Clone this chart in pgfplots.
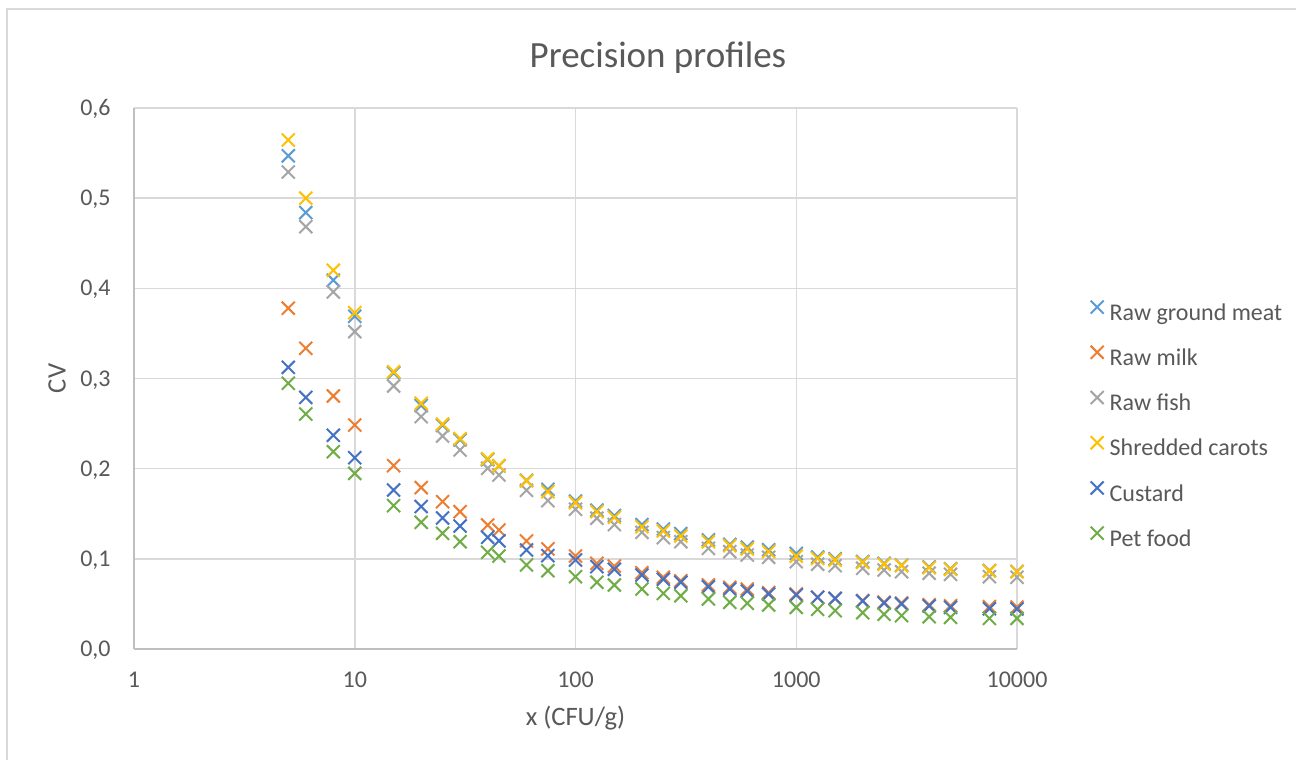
\documentclass[border=0pt]{standalone}
\usepackage{pgfplots}
\usepackage{pgfplotstable}
\pgfplotsset{compat=1.18}
\usepackage{fontspec}
\setmainfont{Carlito}

\definecolor{txtgray}{HTML}{595959}
\definecolor{gridgray}{HTML}{D9D9D9}
\definecolor{axisgray}{HTML}{BFBFBF}
\definecolor{cmeat}{HTML}{5B9BD5}
\definecolor{cmilk}{HTML}{ED7D31}
\definecolor{cfish}{HTML}{A5A5A5}
\definecolor{ccarrot}{HTML}{FFC000}
\definecolor{ccustard}{HTML}{4472C4}
\definecolor{cpet}{HTML}{70AD47}

% CV per matrix at each contamination level (CFU/g)
\pgfplotstableread{
x      meat    milk    fish    carrot  custard pet
5      0.547   0.378   0.529   0.5645  0.3124  0.2947
6      0.484   0.3335  0.4684  0.500   0.279   0.2606
8      0.409   0.2806  0.396   0.420   0.237   0.2188
10     0.369   0.2484  0.352   0.373   0.2122  0.1948
15     0.306   0.2033  0.2917  0.3075  0.1763  0.159
20     0.270   0.179   0.2577  0.2725  0.158   0.1405
25     0.248   0.1634  0.2362  0.2495  0.1453  0.1283
30     0.232   0.1523  0.2207  0.2333  0.1364  0.119
40     0.210   0.1375  0.2004  0.211   0.1239  0.1072
45     0.203   0.132   0.193   0.2033  0.120   0.1031
60     0.187   0.1198  0.176   0.1865  0.1098  0.0932
75     0.177   0.111   0.1645  0.1745  0.1035  0.0868
100    0.164   0.1031  0.155   0.1623  0.0987  0.0802
125    0.154   0.095   0.145   0.1523  0.0913  0.074
150    0.148   0.092   0.138   0.146   0.0884  0.071
200    0.138   0.0846  0.1294  0.1356  0.082   0.0665
250    0.133   0.0795  0.1235  0.1309  0.0773  0.0617
300    0.128   0.0757  0.119   0.1253  0.074   0.059
400    0.121   0.071   0.1116  0.119   0.069   0.0555
500    0.116   0.0684  0.1079  0.1146  0.0665  0.0518
600    0.113   0.0665  0.1042  0.111   0.0643  0.0507
750    0.110   0.0625  0.1017  0.108   0.061   0.0488
1000   0.106   0.061   0.0968  0.1030  0.0599  0.0462
1250   0.102   0.0575  0.094   0.1005  0.0573  0.044
1500   0.100   0.0562  0.0924  0.0987  0.056   0.0425
2000   0.097   0.0537  0.0895  0.0961  0.0532  0.0403
2500   0.095   0.052   0.0876  0.094   0.051   0.0385
3000   0.093   0.051   0.0857  0.0924  0.050   0.037
4000   0.091   0.049   0.084   0.0902  0.0477  0.0358
5000   0.089   0.048   0.0828  0.0884  0.0462  0.0351
7500   0.087   0.047   0.0802  0.0865  0.0447  0.034
10000  0.086   0.0465  0.0795  0.0857  0.0444  0.034
}\cvdata

\begin{document}
\begin{tikzpicture}
\useasboundingbox (0,0) rectangle (648pt,380pt);
\fill[white] (0,0) rectangle (648pt,380pt);
% chart area frame
\draw[gridgray, line width=0.75pt] (3.5pt,-10pt) -- (3.5pt,375.5pt) -- (660pt,375.5pt);
\begin{axis}[
  at={(67pt,55.5pt)}, anchor=south west,
  width=441.5pt, height=270.5pt, scale only axis,
  xmode=log, log basis x=10,
  xmin=1, xmax=10000, ymin=0, ymax=0.6,
  xtick={1,10,100,1000,10000},
  xticklabels={1,10,100,1000,10000},
  ytick={0,0.1,0.2,0.3,0.4,0.5,0.6},
  yticklabels={{0,0},{0,1},{0,2},{0,3},{0,4},{0,5},{0,6}},
  axis x line*=bottom, axis y line*=left,
  axis line style={draw=axisgray, line width=0.75pt},
  grid=major,
  major grid style={draw=gridgray, line width=0.75pt},
  major tick length=0pt, minor tick length=0pt,
  tick label style={font=\fontsize{12}{14}\selectfont, text=txtgray},
  xticklabel style={anchor=north, inner sep=0pt, yshift=-11.3pt},
  yticklabel style={anchor=base east, inner sep=0pt, xshift=-11.5pt, yshift=-3.8pt},
  title={Precision profiles},
  title style={at={(axis description cs:0.5934,1.070)}, anchor=center,
    font=\fontsize{18.5}{22}\selectfont, text=txtgray},
  xlabel={x (CFU/g)},
  xlabel style={at={(axis description cs:0.5,-0.1285)}, anchor=center,
    font=\fontsize{13.3}{16}\selectfont, text=txtgray},
  ylabel={CV},
  ylabel style={at={(axis description cs:-0.087,0.5)}, anchor=center,
    font=\fontsize{13.3}{16}\selectfont, text=txtgray},
  legend cell align=left,
  legend image code/.code={\draw[#1] plot coordinates {(0pt,3.85pt)};},
  legend style={at={(axis description cs:1.0834,0.6440)}, anchor=north west,
    draw=none, fill=none, inner sep=0pt, outer sep=0pt,
    font=\fontsize{12}{14}\selectfont, text=txtgray,
    column sep=3pt, row sep=10.25pt,
    nodes={inner sep=0pt, text height=8pt, text depth=2.5pt}},
  every axis plot/.append style={only marks, mark=x, mark size=4.6pt, line width=1pt},
]
\addplot[color=cmeat]    table[x=x, y=meat]    {\cvdata};
\addlegendentry{Raw ground meat}
\addplot[color=cmilk]    table[x=x, y=milk]    {\cvdata};
\addlegendentry{Raw milk}
\addplot[color=cfish]    table[x=x, y=fish]    {\cvdata};
\addlegendentry{Raw fish}
\addplot[color=ccarrot]  table[x=x, y=carrot]  {\cvdata};
\addlegendentry{Shredded carots}
\addplot[color=ccustard] table[x=x, y=custard] {\cvdata};
\addlegendentry{Custard}
\addplot[color=cpet]     table[x=x, y=pet]     {\cvdata};
\addlegendentry{Pet food}
\end{axis}
\end{tikzpicture}
\end{document}
